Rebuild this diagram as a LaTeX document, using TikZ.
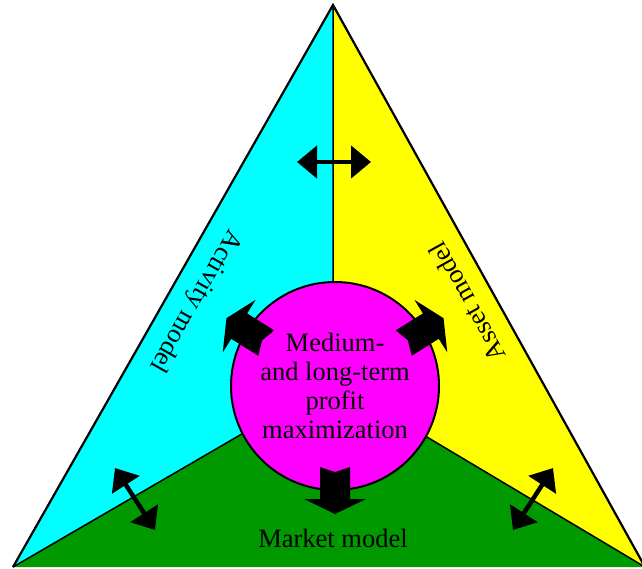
\documentclass[tikz,border=0pt]{standalone}
\usepackage{fontspec}
\setmainfont{Liberation Serif}
\newfontfamily\timesfont{Liberation Serif}
\usetikzlibrary{arrows.meta}
\definecolor{actcyan}{RGB}{0,255,255}
\definecolor{assetyellow}{RGB}{255,255,0}
\definecolor{marketgreen}{RGB}{0,153,0}
\definecolor{goalmagenta}{RGB}{255,0,255}

\begin{document}
\begin{tikzpicture}[x=1pt, y=-1pt, >={Triangle[length=20pt,width=32pt]},
    modeltext/.style={font=\timesfont\fontsize{26.5}{29}\selectfont, inner sep=0pt},
    link/.style={<->, line width=4.5pt}]
    \useasboundingbox (0,0) rectangle (642,568);
    \clip (0,0) rectangle (642,568);
    \coordinate (apex) at (333,5);
    \coordinate (lft) at (13,567);
    \coordinate (rgt) at (645,567);
    \coordinate (mid) at (333,381);
    % the three model sectors
    \fill[actcyan] (apex) -- (mid) -- (lft) -- cycle;
    \fill[assetyellow] (apex) -- (rgt) -- (mid) -- cycle;
    \fill[marketgreen] (lft) -- (mid) -- (rgt) -- cycle;
    \draw[line width=1.5pt] (apex) -- (mid) (lft) -- (mid) -- (rgt);
    \draw[line width=2.2pt] (lft) -- (apex) -- (rgt);
    % goal in the middle
    \node[circle, draw, line width=2pt, fill=goalmagenta, minimum size=208pt,
      align=center, modeltext] (goal) at (335,386)
      {Medium-\\and long-term\\profit\\maximization};
    \foreach \ang in {148,32,-90}
      \fill[shift={(goal.center)}, rotate=\ang, xshift=104pt]
        (-23,15) -- (-18,0) -- (-23,-15) -- (9,-15) -- (9,-31)
        -- (24,0) -- (9,31) -- (9,15) -- cycle;
    % links between the models
    \coordinate (aa1) at (297,162);
    \coordinate (aa2) at (371,162);
    \coordinate (am1) at (115,468);
    \coordinate (am2) at (155,530);
    \coordinate (sm1) at (553,468);
    \coordinate (sm2) at (513,530);
    \draw[link] (aa1) -- (aa2);
    \draw[link] (am1) -- (am2);
    \draw[link] (sm1) -- (sm2);
    % model names
    \node[modeltext, rotate=-119.66] (activity) at (195,301) {Activity model};
    \node[modeltext, rotate=119.04] (asset) at (467,302) {Asset model};
    \node[modeltext] (market) at (333,538) {Market model};
\end{tikzpicture}
\end{document}
